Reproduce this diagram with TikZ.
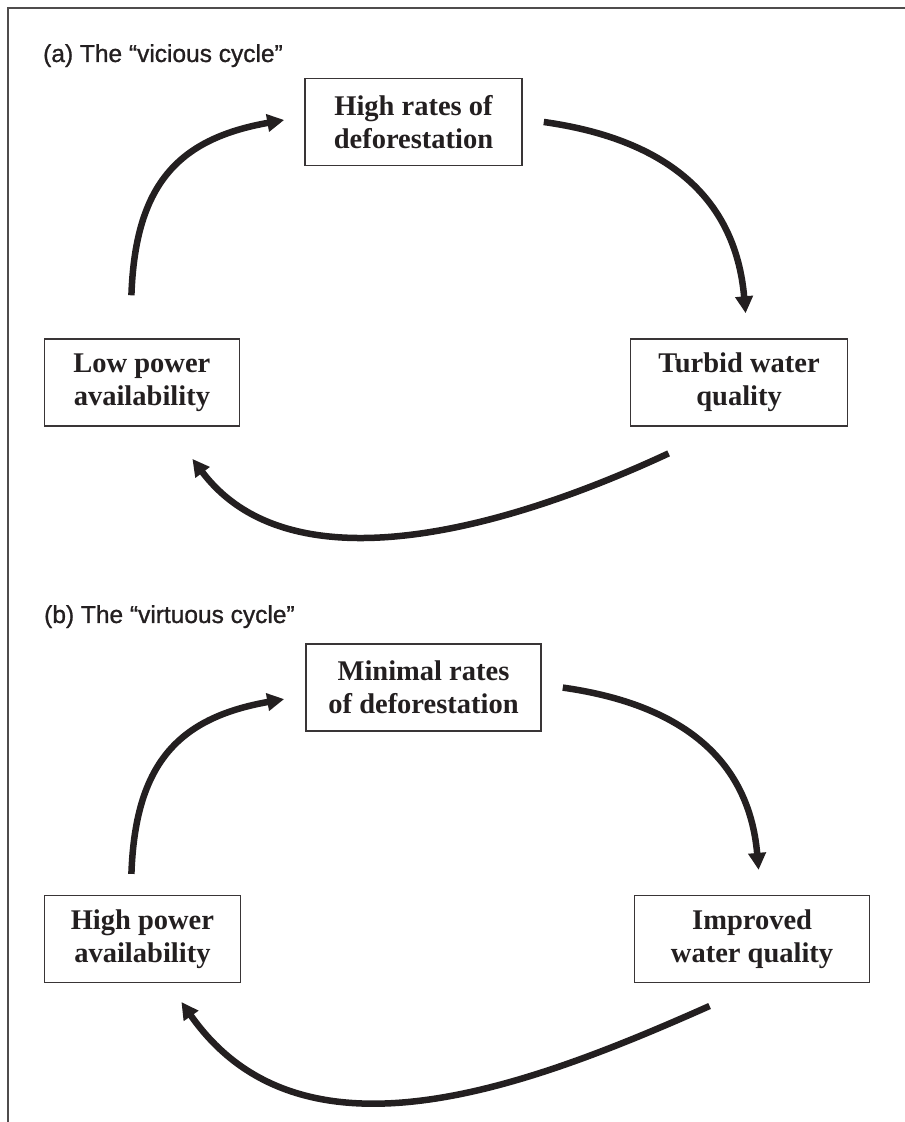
\documentclass[tikz,border=0pt]{standalone}
\usepackage{fontspec}
\setmainfont{Liberation Serif}
\newfontfamily\headfont[FakeBold=1]{Liberation Sans}
\usetikzlibrary{arrows.meta,positioning}
\definecolor{ink}{RGB}{35,31,32}

\begin{document}
\begin{tikzpicture}[x=1pt,y=1pt,
  box/.style={draw=ink!90,line width=1.6pt,align=center,text=ink,minimum height=87pt,inner sep=0pt,font=\fontsize{28.5}{33}\selectfont\bfseries},
  loop/.style={ink,line width=6.5pt,-{Triangle[length=17pt,width=17pt]}},
  head/.style={anchor=base west,text=ink,inner sep=0pt,font=\fontsize{24.5}{28}\selectfont\headfont}]
\useasboundingbox (0,0) rectangle (905,1122);
\draw[ink!80,line width=1.5pt] (8,0) |- (905,1114);

% (a) vicious cycle
\node[head] (ta) at (43,1060) {(a) The “vicious cycle”};
\node[box,minimum width=217pt] (rates) at (413.5,1000) {High rates of\\deforestation};
\node[box,minimum width=195pt] (lowpow) [below left=172pt and 64pt of rates] {Low power\\availability};
\node[box,minimum width=217pt] (turbid) [below right=172pt and 107pt of rates] {Turbid water\\quality};
\coordinate (a1) at ([xshift=-10.5pt,yshift=43pt]lowpow.north);
\coordinate (a2) at ([xshift=-20pt,yshift=2pt]rates.west);
\coordinate (a3) at ([xshift=21pt]rates.east);
\coordinate (a4) at ([xshift=6.5pt,yshift=25pt]turbid.north);
\coordinate (a5) at ([xshift=-70.5pt,yshift=-26.5pt]turbid.south);
\coordinate (a6) at ([xshift=50.5pt,yshift=-32pt]lowpow.south);
\draw[loop] (a1) to[out=88,in=190,looseness=1.2] (a2);
\draw[loop] (a3) to[out=-8,in=95,looseness=1.1] (a4);
\draw[loop] (a5) to[out=205,in=-53,looseness=0.9] (a6);

% (b) virtuous cycle
\node[head] (tb) at (44,499) {(b) The “virtuous cycle”};
\node[box,minimum width=235pt] (minrate) [below=477pt of rates,xshift=10pt] {Minimal rates\\of deforestation};
\node[box,minimum width=196pt] (highpow) [below left=163pt and 64pt of minrate] {High power\\availability};
\node[box,minimum width=235pt] (improved) [below right=163pt and 92pt of minrate] {Improved\\water quality};
\coordinate (b1) at ([xshift=-11pt,yshift=21pt]highpow.north);
\coordinate (b2) at ([xshift=-21pt,yshift=-11.5pt]minrate.west);
\coordinate (b3) at ([xshift=21pt]minrate.east);
\coordinate (b4) at ([xshift=6.5pt,yshift=25pt]improved.north);
\coordinate (b5) at ([xshift=-42.5pt,yshift=-22.5pt]improved.south);
\coordinate (b6) at ([xshift=39pt,yshift=-18.5pt]highpow.south);
\draw[loop] (b1) to[out=88,in=190,looseness=1.2] (b2);
\draw[loop] (b3) to[out=-8,in=95,looseness=1.1] (b4);
\draw[loop] (b5) to[out=204,in=-55] (b6);
\end{tikzpicture}
\end{document}
